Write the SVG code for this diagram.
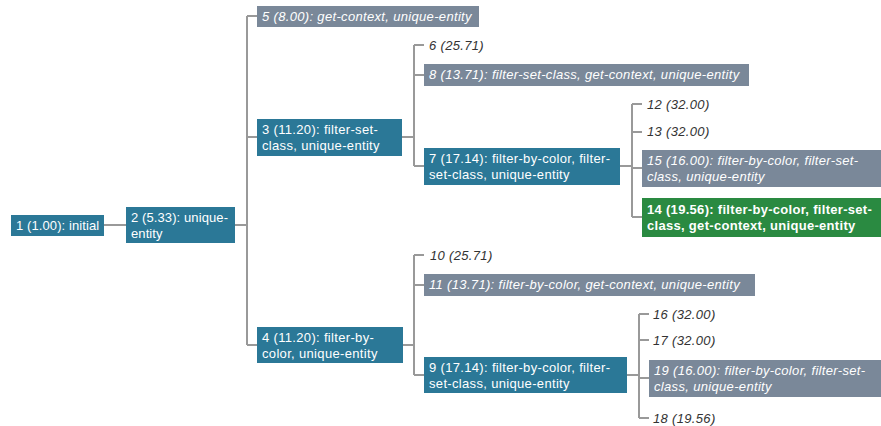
<svg xmlns="http://www.w3.org/2000/svg" width="881" height="426" viewBox="0 0 881 426">
<style>
text{font-family:"Liberation Sans",Arial,sans-serif;font-size:13px;letter-spacing:0.33px}
.b rect{fill:#2b7897}
.g rect{fill:#7a8899}
.h rect{fill:#2a8a41}
.b text,.g text,.h text{fill:#fff}
.g text,.u text{font-style:italic}
.u text{fill:#333}
.h text{font-weight:bold;letter-spacing:0.3px}
#n1 text,#n2 text{letter-spacing:0.1px}
#connectors path{fill:none;stroke:#999;stroke-width:2}
</style>
<rect width="881" height="426" fill="#fff"/>
<g id="connectors">
<path d="M104,225H126"/>
<path d="M235,225H247M247,16V345M247,16H257M247,137H257M247,345H257"/>
<path d="M402,137H414M414,45V166M414,45H424M414,75H424M414,166H424"/>
<path d="M620,166H632M632,104V217M632,104H642M632,132H642M632,168H642M632,217H642"/>
<path d="M403,345H414M414,255V375M414,255H424M414,285H424M414,375H424"/>
<path d="M627,375H639M639,314V418M639,314H649M639,340H649M639,378H649M639,418H649"/>
</g>
<g id="n1" class="b"><rect x="11" y="215" width="93" height="21"/><text x="16" y="230">1 (1.00): initial</text></g>
<g id="n2" class="b"><rect x="126" y="207" width="109" height="36"/><text x="131" y="222">2 (5.33): unique-</text><text x="131" y="238">entity</text></g>
<g id="n5" class="g"><rect x="257" y="6" width="222" height="21"/><text x="262" y="21">5 (8.00): get-context, unique-entity</text></g>
<g id="n3" class="b"><rect x="257" y="119" width="145" height="37"/><text x="262" y="134">3 (11.20): filter-set-</text><text x="262" y="150">class, unique-entity</text></g>
<g id="n4" class="b"><rect x="257" y="327" width="146" height="36"/><text x="262" y="342">4 (11.20): filter-by-</text><text x="262" y="358">color, unique-entity</text></g>
<g id="n6" class="u"><text x="429" y="50">6 (25.71)</text></g>
<g id="n8" class="g"><rect x="424" y="64" width="325" height="22"/><text x="429" y="79">8 (13.71): filter-set-class, get-context, unique-entity</text></g>
<g id="n7" class="b"><rect x="424" y="148" width="196" height="37"/><text x="429" y="163">7 (17.14): filter-by-color, filter-</text><text x="429" y="179">set-class, unique-entity</text></g>
<g id="n12" class="u"><text x="647" y="109">12 (32.00)</text></g>
<g id="n13" class="u"><text x="647" y="136">13 (32.00)</text></g>
<g id="n15" class="g"><rect x="642" y="150" width="239" height="37"/><text x="647" y="165">15 (16.00): filter-by-color, filter-set-</text><text x="647" y="181">class, unique-entity</text></g>
<g id="n14" class="h"><rect x="642" y="198" width="239" height="39"/><text x="647" y="214">14 (19.56): filter-by-color, filter-set-</text><text x="647" y="230">class, get-context, unique-entity</text></g>
<g id="n10" class="u"><text x="430" y="260">10 (25.71)</text></g>
<g id="n11" class="g"><rect x="424" y="274" width="331" height="22"/><text x="429" y="289">11 (13.71): filter-by-color, get-context, unique-entity</text></g>
<g id="n9" class="b"><rect x="424" y="357" width="203" height="36"/><text x="429" y="372">9 (17.14): filter-by-color, filter-</text><text x="429" y="388">set-class, unique-entity</text></g>
<g id="n16" class="u"><text x="653" y="319">16 (32.00)</text></g>
<g id="n17" class="u"><text x="653" y="345">17 (32.00)</text></g>
<g id="n19" class="g"><rect x="649" y="360" width="232" height="37"/><text x="654" y="375">19 (16.00): filter-by-color, filter-set-</text><text x="654" y="391">class, unique-entity</text></g>
<g id="n18" class="u"><text x="653" y="423">18 (19.56)</text></g>
</svg>
